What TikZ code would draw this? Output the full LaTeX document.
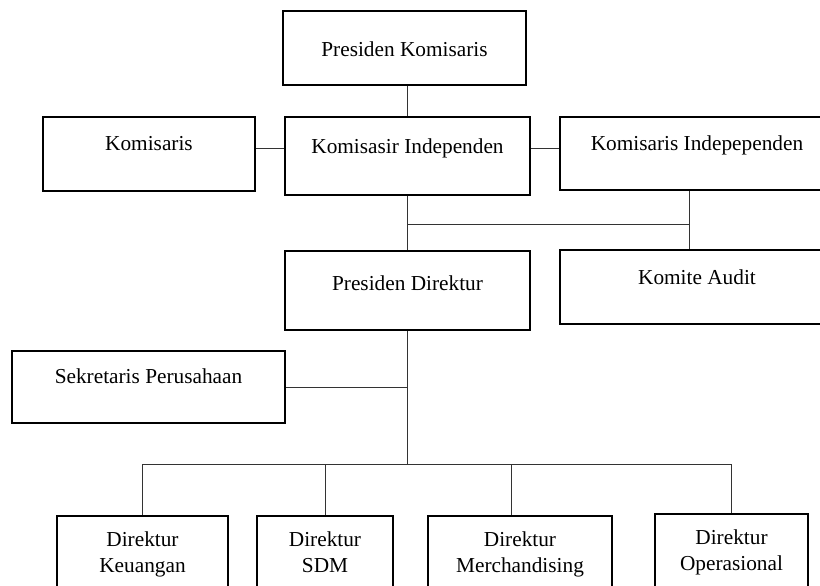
\documentclass[tikz,border=0pt]{standalone}
\usepackage{fontspec}
\setmainfont{Liberation Serif}
\begin{document}
\begin{tikzpicture}[x=1bp,y=-1bp,
  orgbox/.style={draw=black, line width=2.2bp, rectangle, inner sep=0pt,
    text height=20bp, font=\fontsize{21.3bp}{26.5bp}\selectfont},
  link/.style={draw=black!80, line width=1bp}]
\useasboundingbox (0,0) rectangle (820,586);
\clip (0,0) rectangle (820,586);

% board of commissioners
\node[orgbox, minimum width=243bp, minimum height=74bp, text depth=2bp]  (pk)   at (404.5,48)  {Presiden Komisaris};
\node[orgbox, minimum width=212bp, minimum height=74bp, text depth=26bp] (kom)  at (149,154)   {Komisaris};
\node[orgbox, minimum width=245bp, minimum height=78bp, text depth=24bp] (ki)   at (407.5,156) {Komisasir Independen};
\node[orgbox, minimum width=274bp, minimum height=73bp, text depth=25bp] (kind) at (697,153.5) {Komisaris Indepependen};

% directors and committees
\node[orgbox, minimum width=245bp, minimum height=79bp, text depth=20bp] (pd)   at (407.5,290.5) {Presiden Direktur};
\node[orgbox, minimum width=274bp, minimum height=74bp, text depth=26bp] (ka)   at (697,287)   {Komite Audit};
\node[orgbox, minimum width=273bp, minimum height=72bp, text depth=28bp] (sek)  at (148.5,387) {Sekretaris Perusahaan};

% individual directors
\node[orgbox, anchor=north, minimum width=171bp, minimum height=120bp, text depth=80bp] (dk)  at (142.5,515)
  {\begin{tabular}[t]{@{}c@{}}Direktur\\Keuangan\end{tabular}};
\node[orgbox, anchor=north, minimum width=136bp, minimum height=120bp, text depth=80bp] (sdm) at (325,515)
  {\begin{tabular}[t]{@{}c@{}}Direktur\\SDM\end{tabular}};
\node[orgbox, anchor=north, minimum width=184bp, minimum height=120bp, text depth=80bp] (mer) at (520,515)
  {\begin{tabular}[t]{@{}c@{}}Direktur\\Merchandising\end{tabular}};
\node[orgbox, anchor=north, minimum width=153bp, minimum height=120bp, text depth=80bp] (ops) at (731.5,513)
  {\begin{tabular}[t]{@{}c@{}}Direktur\\Operasional\end{tabular}};

% helper coordinates for the connector runs
\coordinate (kl)  at (0,149);
\coordinate (ax)  at (689,224);
\coordinate (bus) at (0,464);
\coordinate (mx)  at (511,464);

% connectors
\draw[link] (ki.north) -- (ki.north |- pk.south);
\draw[link] (kom.east |- kl) -- (ki.west |- kl);
\draw[link] (ki.east |- kl) -- (kind.west |- kl);
\draw[link] (ki.south) -- (pd.north);
\draw[link] (ki.south |- ax) -- (ax);
\draw[link] (kind.south -| ax) -- (ka.north -| ax);
\draw[link] (pd.south) -- (pd.south |- bus);
\draw[link] (sek.east) -- (sek.east -| pd.south);
\draw[link] (dk.north |- bus) -- (ops.north |- bus);
\draw[link] (dk.north |- bus) -- (dk.north);
\draw[link] (sdm.north |- bus) -- (sdm.north);
\draw[link] (mx) -- (mer.north -| mx);
\draw[link] (ops.north |- bus) -- (ops.north);
\end{tikzpicture}
\end{document}
